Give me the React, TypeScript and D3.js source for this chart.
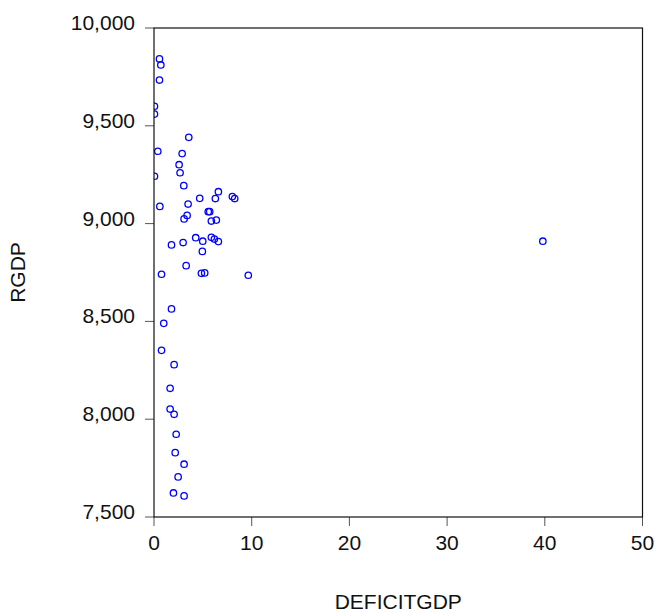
import * as d3 from "d3";
import { useEffect, useRef } from "react";

// DEFICITGDP vs RGDP
const deficitGdp = [
  0.56, 0.7, 0.56, 0.05, 0.05, 3.56, 0.39, 2.88, 2.57, 2.67, 0.05, 3.05,
  6.59, 4.68, 6.28, 8.02, 8.26, 0.6, 3.49, 5.7, 5.55, 3.39, 3.08, 5.87,
  6.38, 4.27, 5.87, 6.18, 6.59, 4.99, 2.98, 1.79, 4.95, 3.29, 0.77, 4.85,
  5.19, 9.65, 39.8, 1.79, 1.0, 0.77, 2.06, 1.65, 1.65, 2.06, 2.27, 2.17,
  3.08, 2.47, 1.99, 3.08,
];
const rgdp = [
  9842, 9811, 9734, 9600, 9560, 9441, 9370, 9358, 9301, 9260, 9242, 9194,
  9163, 9129, 9128, 9138, 9128, 9088, 9100, 9061, 9061, 9042, 9024, 9013,
  9018, 8928, 8930, 8921, 8908, 8910, 8903, 8891, 8858, 8785, 8741, 8746,
  8748, 8736, 8910, 8564, 8490, 8352, 8279, 8158, 8052, 8025, 7923, 7829,
  7770, 7705, 7623, 7608,
];
const xTicks = [0, 10, 20, 30, 40, 50];
const yTicks = [7500, 8000, 8500, 9000, 9500, 10000];

export default function App() {
  const ref = useRef<SVGSVGElement>(null);

  useEffect(() => {
    const svg = d3.select(ref.current);
    svg.selectAll("*").remove();

    const width = 670;
    const height = 612;
    const margin = { top: 28, right: 27.5, bottom: 95, left: 154 };
    const font = "'Liberation Sans', Arial, sans-serif";

    svg.attr("width", width).attr("height", height);

    const x = d3.scaleLinear()
      .domain([0, 50])
      .range([margin.left, width - margin.right]);

    const y = d3.scaleLinear()
      .domain([7500, 10000])
      .range([height - margin.bottom, margin.top]);

    svg.append("rect")
      .attr("width", width)
      .attr("height", height)
      .attr("fill", "white");

    svg.append("clipPath")
      .attr("id", "plot-clip")
      .append("rect")
      .attr("x", margin.left)
      .attr("y", margin.top)
      .attr("width", x(50) - x(0))
      .attr("height", y(7500) - y(10000));

    // ticks
    svg.append("g")
      .selectAll("line")
      .data(yTicks)
      .join("line")
      .attr("x1", margin.left - 9)
      .attr("x2", margin.left)
      .attr("y1", d => y(d))
      .attr("y2", d => y(d))
      .attr("stroke", "#555")
      .attr("stroke-width", 1);

    svg.append("g")
      .selectAll("line")
      .data(xTicks)
      .join("line")
      .attr("x1", d => x(d))
      .attr("x2", d => x(d))
      .attr("y1", y(7500))
      .attr("y2", y(7500) + 9)
      .attr("stroke", "#555")
      .attr("stroke-width", 1);

    const fmt = d3.format(",");

    svg.append("g")
      .selectAll("text")
      .data(yTicks)
      .join("text")
      .attr("x", margin.left - 19)
      .attr("y", d => y(d) + 2)
      .attr("text-anchor", "end")
      .attr("font-family", font)
      .attr("font-size", 21)
      .attr("fill", "#111")
      .text(d => fmt(d));

    svg.append("g")
      .selectAll("text")
      .data(xTicks)
      .join("text")
      .attr("x", d => x(d))
      .attr("y", y(7500) + 33)
      .attr("text-anchor", "middle")
      .attr("font-family", font)
      .attr("font-size", 21)
      .attr("fill", "#111")
      .text(d => d);

    // points
    svg.append("g")
      .attr("clip-path", "url(#plot-clip)")
      .selectAll("circle")
      .data(deficitGdp.map((d, i) => ({ d, r: rgdp[i] })))
      .join("circle")
      .attr("cx", p => x(p.d))
      .attr("cy", p => y(p.r))
      .attr("r", 3.2)
      .attr("fill", "none")
      .attr("stroke", "#0000ff")
      .attr("stroke-width", 1.3);

    // frame
    svg.append("rect")
      .attr("x", x(0))
      .attr("y", y(10000))
      .attr("width", x(50) - x(0))
      .attr("height", y(7500) - y(10000))
      .attr("fill", "none")
      .attr("stroke", "#111")
      .attr("stroke-width", 1.2);

    svg.append("text")
      .attr("x", (x(0) + x(50)) / 2)
      .attr("y", 609)
      .attr("text-anchor", "middle")
      .attr("font-family", font)
      .attr("font-size", 21)
      .attr("fill", "#111")
      .text("DEFICITGDP");

    svg.append("text")
      .attr("transform", `translate(25,${(y(7500) + y(10000)) / 2}) rotate(-90)`)
      .attr("text-anchor", "middle")
      .attr("font-family", font)
      .attr("font-size", 21)
      .attr("fill", "#111")
      .text("RGDP");
  }, []);

  return (
    <div style={{ position: "absolute", left: 0, top: 0 }}>
      <svg ref={ref}></svg>
    </div>
  );
}
